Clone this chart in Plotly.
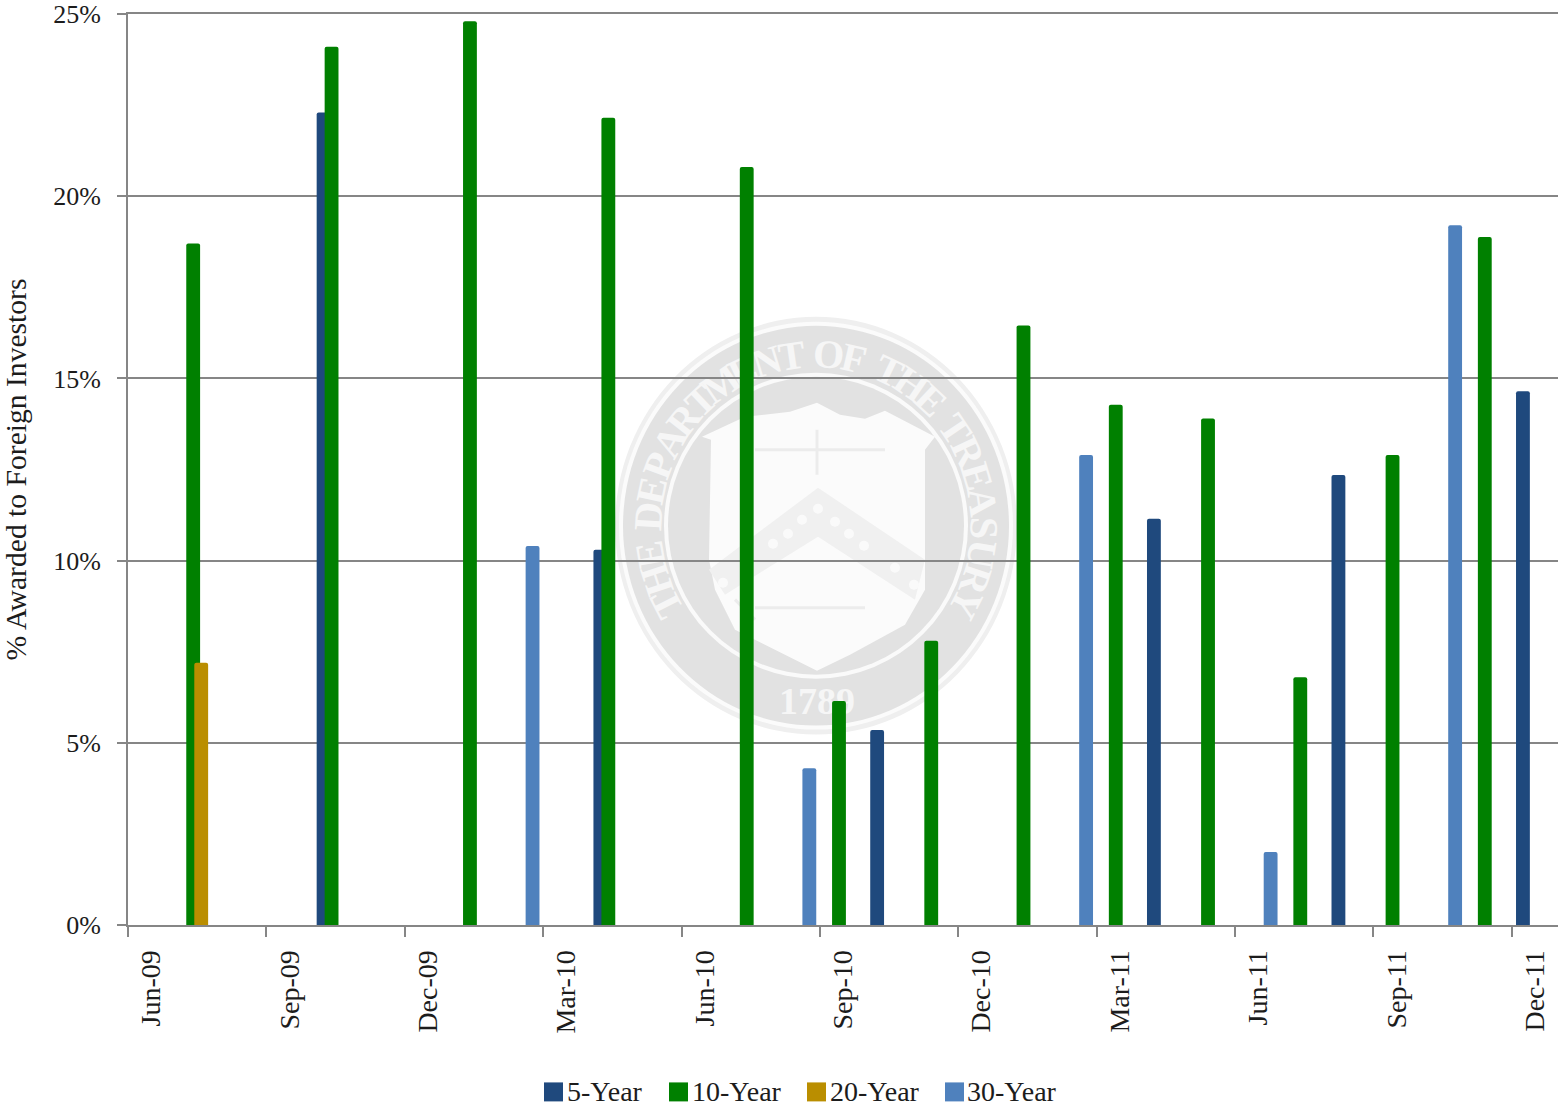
import math
import plotly.graph_objects as go

months = [f"{m}-{y}" for y, ms in [("09", ["Jun","Jul","Aug","Sep","Oct","Nov","Dec"]),
                                   ("10", ["Jan","Feb","Mar","Apr","May","Jun","Jul","Aug","Sep","Oct","Nov","Dec"]),
                                   ("11", ["Jan","Feb","Mar","Apr","May","Jun","Jul","Aug","Sep","Oct","Nov","Dec"])]
          for m in ms]

x_5y = ["Oct-09", "Apr-10", "Oct-10", "Apr-11", "Aug-11", "Dec-11"]
v_5y = [22.3, 10.3, 5.35, 11.15, 12.35, 14.65]
x_10y = ["Jul-09", "Oct-09", "Jan-10", "Apr-10", "Jul-10", "Sep-10", "Nov-10", "Jan-11",
         "Mar-11", "May-11", "Jul-11", "Sep-11", "Nov-11"]
v_10y = [18.7, 24.1, 24.8, 22.15, 20.8, 6.15, 7.8, 16.45, 14.28, 13.9, 6.8, 12.9, 18.88]
x_20y = ["Jul-09"]
v_20y = [7.2]
x_30y = ["Feb-10", "Aug-10", "Feb-11", "Jun-11", "Oct-11"]
v_30y = [10.4, 4.3, 12.9, 2.0, 19.2]

series = [("5-Year", x_5y, v_5y, "#1F497D", -0.41),
          ("10-Year", x_10y, v_10y, "#008000", -0.237),
          ("20-Year", x_20y, v_20y, "#BA8E00", -0.063),
          ("30-Year", x_30y, v_30y, "#4F81BD", 0.12)]

FONT = "Liberation Serif"
W, H = 1560, 1110
L, R, T, B = 128, 1558, 14, 925.5
INK = "#1c1c1c"
GRID = "#868686"

def fx(x): return (x - L) / (R - L)
def fy(y): return (B - y) / (B - T)

fig = go.Figure()
for name, xs, ys, col, off in series:
    fig.add_bar(x=xs, y=ys, name=name, marker_color=col, marker_line_width=0,
                width=0.30, offset=off, showlegend=False)

shapes, annos = [], []

def disc(cx, cy, rx, ry, fill):
    shapes.append(dict(type="circle", xref="paper", yref="paper", layer="below",
                       x0=fx(cx - rx), x1=fx(cx + rx), y0=fy(cy + ry), y1=fy(cy - ry),
                       fillcolor=fill, line_width=0))

def glyph(cx, cy, text, angle, size, color):
    shapes.append(dict(type="rect", xref="paper", yref="paper", layer="below",
                       x0=fx(cx - 30), x1=fx(cx + 30), y0=fy(cy + 30), y1=fy(cy - 30),
                       fillcolor="rgba(0,0,0,0)", line_width=0,
                       label=dict(text=text, textangle=angle, textposition="middle center",
                                  font=dict(family=FONT, size=size, color=color, weight=700))))

CX, CY = 816, 526
disc(CX, CY, 201, 209, "#efefef")
disc(CX, CY, 197, 204, "#fbfbfb")
disc(CX, CY, 193, 200, "#e2e2e2")
disc(CX, CY, 152, 153, "#fafafa")
disc(CX, CY, 148, 149, "#e2e2e2")

def pts(p):
    return "M" + " L".join(f"{fx(a):.5f},{fy(b):.5f}" for a, b in p) + " Z"

shield = [(817, 403), (840, 415), (865, 419), (885, 411), (935, 437), (925, 450), (925, 590),
          (905, 625), (850, 655), (817, 671), (785, 655), (735, 630), (715, 590), (709, 560),
          (711, 440), (702, 437), (745, 417), (790, 412)]
shapes.append(dict(type="path", xref="paper", yref="paper", layer="below",
                   path=pts(shield), fillcolor="#fbfbfb", line_width=0))
chev = [(818, 488), (925, 560), (915, 600), (818, 537), (725, 595), (709, 570)]
shapes.append(dict(type="path", xref="paper", yref="paper", layer="below",
                   path=pts(chev), fillcolor="#f0f0f0", line_width=0))
for a, b in [(818, 509), (802, 520), (788, 534), (773, 544), (835, 522), (849, 534), (864, 546), (895, 568),
             (723, 583), (914, 585)]:
    disc(a, b, 5, 5, "#fafafa")
for a, b, c, d in [(755, 450, 885, 450), (817, 430, 817, 475), (755, 608, 865, 608), (735, 600, 755, 620)]:
    shapes.append(dict(type="line", xref="paper", yref="paper", layer="below",
                       x0=fx(a), x1=fx(c), y0=fy(b), y1=fy(d), line=dict(color="#ececec", width=3)))

ring = "THE DEPARTMENT OF THE TREASURY"
adv = [0.45 if c == " " else 0.6 if c == "I" else 1.0 for c in ring]
total = sum(adv) - (adv[0] + adv[-1]) / 2
start, end = -117, 117
run = 0.0
for i, ch in enumerate(ring):
    if i:
        run += (adv[i - 1] + adv[i]) / 2
    a = start + (end - start) * run / total
    rad = math.radians(a)
    if ch != " ":
        glyph(CX + 172 * math.sin(rad), CY - 176 * math.cos(rad), ch, a, 40, "#f6f6f6")
glyph(CX + 1, CY + 171, "1789", 0, 38, "#f6f6f6")

lx = [544, 669, 807, 945]
for (name, xs, ys, col, off), x0 in zip(series, lx):
    shapes.append(dict(type="rect", xref="paper", yref="paper",
                       x0=fx(x0), x1=fx(x0 + 19), y0=fy(1102), y1=fy(1083),
                       fillcolor=col, line_width=0, layer="below"))
    annos.append(dict(text=name, xref="paper", yref="paper", x=fx(x0 + 20.5), y=fy(1092.5),
                      xanchor="left", yanchor="middle", showarrow=False,
                      font=dict(family=FONT, size=28, color=INK)))

fig.update_layout(
    width=W, height=H, margin=dict(l=L, r=W - R, t=T, b=H - B, pad=0, autoexpand=False),
    paper_bgcolor="white", plot_bgcolor="rgba(0,0,0,0)", barmode="overlay", barcornerradius=2,
    font=dict(family=FONT, size=26, color=INK), shapes=shapes, annotations=annos,
    xaxis=dict(type="category", categoryorder="array", categoryarray=months, range=[-0.5, 30.5],
               tickmode="linear", tick0=0, dtick=3, tickson="boundaries", ticks="outside", ticklen=10,
               tickwidth=2, tickcolor=GRID, tickangle=-90, showgrid=False, showline=True, mirror=True,
               linecolor=GRID, linewidth=2, ticklabelstandoff=12, tickfont=dict(size=28, color=INK)),
    yaxis=dict(range=[0, 25], dtick=5, ticksuffix="%", showgrid=True, gridcolor=GRID, gridwidth=2,
               ticks="outside", ticklen=9, tickwidth=2, tickcolor=GRID, showline=True, linecolor=GRID,
               linewidth=2, zeroline=False, ticklabelstandoff=11,
               title=dict(text="% Awarded to Foreign Investors", standoff=22,
                          font=dict(family=FONT, size=29.6, color=INK)),
               tickfont=dict(size=26, color=INK)),
)
fig.write_html("out.html", config={"displayModeBar": False},
               post_script="document.body.style.margin='0';")
